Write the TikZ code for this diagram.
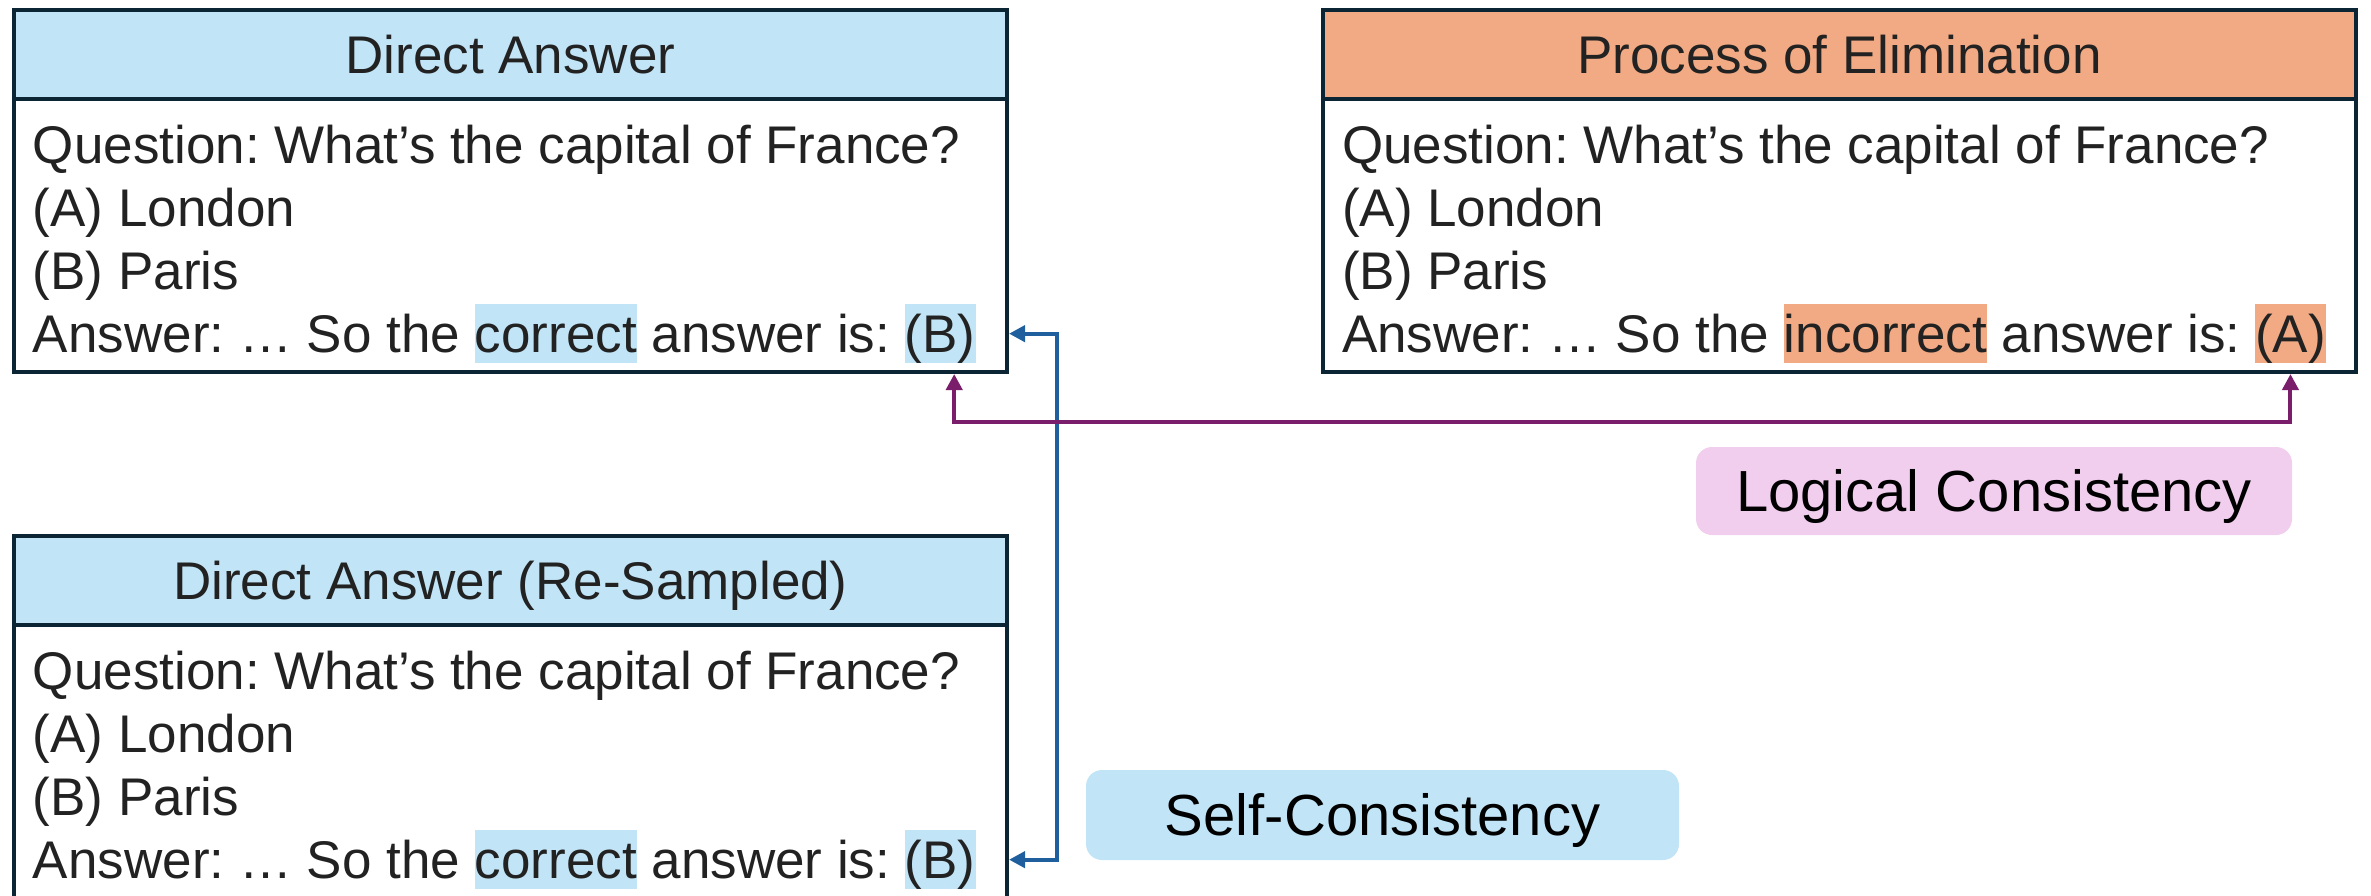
\documentclass[tikz,border=0pt]{standalone}
\usepackage{fontspec}
\setmainfont{Liberation Sans}
\usetikzlibrary{arrows.meta,calc}
\frenchspacing

\definecolor{framenavy}{HTML}{0B2534}
\definecolor{hdblue}{HTML}{C1E4F6}
\definecolor{hdorange}{HTML}{F2AA84}
\definecolor{lcpink}{HTML}{F1CEEE}
\definecolor{scline}{HTML}{1F5F9E}
\definecolor{lcline}{HTML}{7A1E6C}
\definecolor{bodytext}{HTML}{222222}

\tikzset{
  panel/.style={draw=framenavy, line width=1.2pt, anchor=north west,
    inner sep=0pt, minimum height=108.6pt},
  header/.style={draw=framenavy, line width=1.2pt, anchor=north west,
    inner sep=0pt, minimum height=26.7pt},
  txt/.style={font=\fontsize{15.9pt}{19pt}\selectfont, text=bodytext,
    inner sep=0pt, outer sep=0pt, anchor=base west},
  title/.style={txt, anchor=center, text height=11.4pt, text depth=0pt},
  hl/.style={txt, fill=#1, text height=14.4pt, text depth=3.4pt},
  tag/.style={rounded corners=4.8pt, inner sep=0pt, text=black,
    font=\fontsize{17.4pt}{21pt}\selectfont, text height=12.5pt, text depth=0pt},
  link/.style={line width=1.2pt,
    arrows={Triangle[length=4.8pt,width=4.8pt]-Triangle[length=4.8pt,width=4.8pt]}},
}

\begin{document}
\begin{tikzpicture}[x=0.3pt, y=-0.3pt]
\path[use as bounding box] (0,0) rectangle (2371,895);
\clip (0,0) rectangle (2371,895);

% ---------- Direct Answer ----------
\node[header, fill=hdblue, minimum width=297.9pt] (daH) at (12,8) {};
\node[title] (daT) at (daH.center) {Direct Answer};
\node[panel, minimum width=297.9pt] (da) at (12,8) {};
\node[txt] (daQ) at (33,163) {Question: What’s the capital of France?};
\node[txt] (daA) at (33,226) {(A) London};
\node[txt] (daB) at (33,289) {(B) Paris};
\node[txt] (daS1) at (33,352) {Answer: … So the\kern.278em};
\node[hl=hdblue] (daW) at (daS1.base east) {correct};
\node[txt] (daS2) at (daW.base east) {\kern.278em answer is:\kern.278em};
\node[hl=hdblue] (daX) at (daS2.base east) {(B)};

% ---------- Process of Elimination ----------
\node[header, fill=hdorange, minimum width=309.9pt] (peH) at (1321,8) {};
\node[title] (peT) at (peH.center) {Process of Elimination};
\node[panel, minimum width=309.9pt] (pe) at (1321,8) {};
\node[txt] (peQ) at (1342,163) {Question: What’s the capital of France?};
\node[txt] (peA) at (1342,226) {(A) London};
\node[txt] (peB) at (1342,289) {(B) Paris};
\node[txt] (peS1) at (1342,352) {Answer: … So the\kern.278em};
\node[hl=hdorange] (peW) at (peS1.base east) {incorrect};
\node[txt] (peS2) at (peW.base east) {\kern.278em answer is:\kern.278em};
\node[hl=hdorange] (peX) at (peS2.base east) {(A)};

% ---------- Direct Answer (Re-Sampled) ----------
\node[header, fill=hdblue, minimum width=297.9pt] (rsH) at (12,534) {};
\node[title] (rsT) at (rsH.center) {Direct Answer (Re-Sampled)};
\node[panel, minimum width=297.9pt] (rs) at (12,534) {};
\node[txt] (rsQ) at (33,689) {Question: What’s the capital of France?};
\node[txt] (rsA) at (33,752) {(A) London};
\node[txt] (rsB) at (33,815) {(B) Paris};
\node[txt] (rsS1) at (33,878) {Answer: … So the\kern.278em};
\node[hl=hdblue] (rsW) at (rsS1.base east) {correct};
\node[txt] (rsS2) at (rsW.base east) {\kern.278em answer is:\kern.278em};
\node[hl=hdblue] (rsX) at (rsS2.base east) {(B)};

% ---------- consistency tags ----------
\node[tag, fill=hdblue, minimum width=177.9pt, minimum height=27pt] (sc) at (1382.5,815) {Self-Consistency};
\node[tag, fill=lcpink, minimum width=178.8pt, minimum height=26.4pt] (lc) at (1994,491) {Logical Consistency};

% ---------- links ----------
\draw[link, draw=scline] (da.east |- daX) -- ++(48,0) |- (rs.east |- rsX);
\draw[link, draw=lcline] ($(da.south -| daX)+(14,0)$) -- ++(0,48) -| (pe.south -| peX);
\end{tikzpicture}
\end{document}
